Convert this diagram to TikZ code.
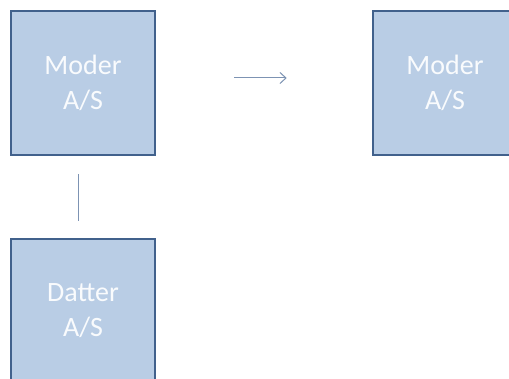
\documentclass[tikz,border=0pt]{standalone}
\usepackage{fontspec}
\setmainfont{Carlito}
\usetikzlibrary{arrows.meta}
\definecolor{boxfill}{HTML}{B9CDE5}
\definecolor{boxedge}{HTML}{41618C}
\definecolor{linkcol}{HTML}{7D93B3}
\tikzset{
  company/.style={draw=boxedge, line width=2.6pt, fill=boxfill,
    minimum width=144pt, minimum height=144pt, inner sep=0pt,
    align=center, text=white!92!boxfill,
    font=\fontsize{28}{35}\selectfont},
  link/.style={draw=linkcol, line width=1pt}
}
\begin{document}
\begin{tikzpicture}[x=1pt,y=-1pt]
  \fill[white] (0,0) rectangle (509,379);
  \useasboundingbox (0,0) rectangle (509,379);
  \begin{scope}
    \clip (0,0) rectangle (509,379);
    \node[company] (mother) at (83,83) {Moder\\A/S};
    \node[company] (other) at (445,83) {Moder\\A/S};
    \node[company] (daughter) at (83,311) {Datter\\A/S};
    \draw[link, shorten <=18pt, shorten >=17pt]
      ([xshift=-5pt]mother.south) -- ([xshift=-5pt]daughter.north);
    \draw[link, -{Straight Barb[length=6pt,width=11pt]}, shorten <=78pt, shorten >=85pt]
      ([yshift=5pt]mother.east) -- ([yshift=5pt]other.west);
  \end{scope}
\end{tikzpicture}
\end{document}
